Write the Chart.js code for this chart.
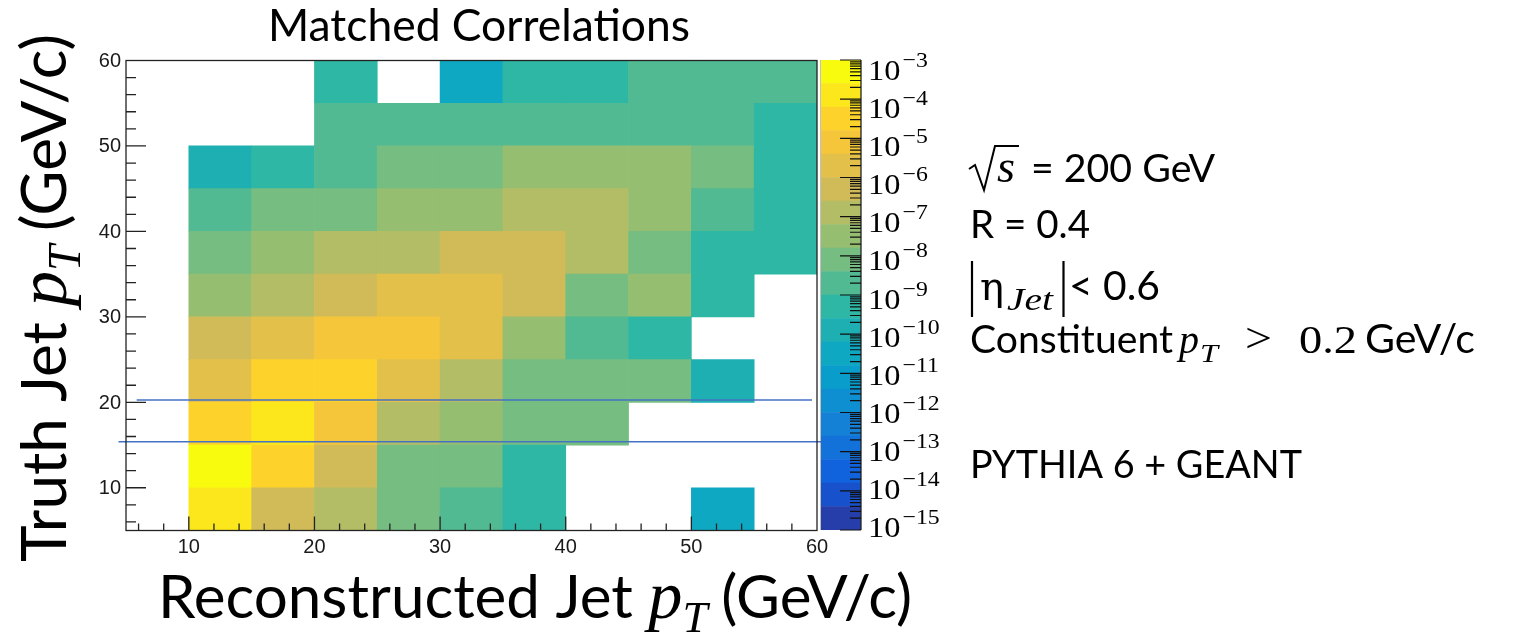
<!DOCTYPE html>
<html>
<head>
<meta charset="utf-8">
<script src="https://cdn.jsdelivr.net/npm/chart.js@4.4.1/dist/chart.umd.min.js"></script>
<style>
  html, body { margin: 0; padding: 0; background: #fff; }
  #wrap { position: relative; width: 1519px; height: 638px; overflow: hidden; background: #fff; }
  #main { position: absolute; left: 0; top: 0; }
  #zbar { position: absolute; left: 820px; top: 0; }
</style>
</head>
<body>
<div id="wrap">
  <canvas id="main" width="1519" height="638"></canvas>
  <canvas id="zbar" width="140" height="638"></canvas>
</div>
<script>
// ---- binning (GeV/c) ----
const recoLowEdges = [10, 15, 20, 25, 30, 35, 40, 45, 50, 55];
const truthLowEdges = [5, 10, 15, 20, 25, 30, 35, 40, 45, 50, 55];
const binWidth = 5;

// ---- matched-jet yield, one array per truth-pT bin, indexed by reco-pT bin (null = empty) ----
const truth05 = [1.2e-4, 4.5e-7, 1.2e-7, 7e-9, 2e-9, 5e-10, null, null, 3e-11, null];
const truth10 = [5e-4, 3.5e-5, 5e-7, 8e-9, 7.5e-9, 5e-10, null, null, null, null];
const truth15 = [3e-5, 1.3e-4, 9e-6, 1.2e-7, 3e-8, 8e-9, 7e-9, null, null, null];
const truth20 = [2e-6, 3.2e-5, 3e-5, 2.2e-6, 1.3e-7, 8e-9, 8e-9, 7e-9, 1.3e-10, null];
const truth25 = [5e-7, 2e-6, 8e-6, 7.5e-6, 2e-6, 3e-8, 2e-9, 5e-10, null, null];
const truth30 = [3e-8, 1.3e-7, 5e-7, 2e-6, 2e-6, 5.5e-7, 8e-9, 3e-8, 5e-10, null];
const truth35 = [8e-9, 3e-8, 1.2e-7, 1.4e-7, 5e-7, 5e-7, 1.3e-7, 8e-9, 5e-10, 5e-10];
const truth40 = [2e-9, 8e-9, 7.5e-9, 3e-8, 3e-8, 1.3e-7, 1.2e-7, 3e-8, 2e-9, 5e-10];
const truth45 = [1.3e-10, 5e-10, 2e-9, 8e-9, 8e-9, 3e-8, 3e-8, 2.8e-8, 8e-9, 5e-10];
const truth50 = [null, null, 2e-9, 2e-9, 2e-9, 2e-9, 2e-9, 2e-9, 2e-9, 5e-10];
const truth55 = [null, null, 5e-10, null, 3e-11, 5e-10, 5e-10, 2e-9, 2e-9, 2e-9];
const truthRows = [truth05, truth10, truth15, truth20, truth25, truth30, truth35, truth40, truth45, truth50, truth55];

// ---- axis tick labels ----
const xTickLabels = [10, 20, 30, 40, 50, 60];
const yTickLabels = [10, 20, 30, 40, 50, 60];

// ---- horizontal reference lines (truth pT) ----
const refLineY = [20.27, 15.4];
const refLineFrom = [5.85, 4.4];
const refLineTo = [59.6, 60.3];

// ---- colour scale ----
const zLogMin = -15, zLogMax = -3, nContours = 20;
const zTickExponents = [-3, -4, -5, -6, -7, -8, -9, -10, -11, -12, -13, -14, -15];

// kBird palette stops
const birdR = [0.2082, 0.0592, 0.0780, 0.0232, 0.1802, 0.5301, 0.8186, 0.9956, 0.9764];
const birdG = [0.1664, 0.3599, 0.5041, 0.6419, 0.7178, 0.7492, 0.7328, 0.7862, 0.9832];
const birdB = [0.5293, 0.8684, 0.8385, 0.7914, 0.6425, 0.4662, 0.3499, 0.1968, 0.0539];
function bird(t) {
  const n = birdR.length - 1;
  const p = Math.min(Math.max(t, 0), 1) * n;
  const i = Math.min(Math.floor(p), n - 1), f = p - i;
  const c = a => Math.round(255 * (a[i] + (a[i + 1] - a[i]) * f));
  return `rgb(${c(birdR)},${c(birdG)},${c(birdB)})`;
}
const contourColours = [];
for (let i = 0; i < nContours; i++) contourColours.push(bird((i + 1) / nContours));
function contourIndex(v) {
  const k = Math.floor((Math.log10(v) - zLogMin) / ((zLogMax - zLogMin) / nContours));
  return Math.min(Math.max(k, 0), nContours - 1);
}
function colourFor(v) { return contourColours[contourIndex(v)]; }

// ---- cells as floating bars ----
const cellDatasets = truthRows.map((row, j) => ({
  type: 'bar',
  data: row.map((v, i) => v == null ? null : {
    x: recoLowEdges[i] + binWidth / 2,
    y: [truthLowEdges[j], truthLowEdges[j] + binWidth],
    v: v
  }).filter(d => d !== null),
  backgroundColor: ctx => (ctx.raw && ctx.raw.v) ? colourFor(ctx.raw.v) : 'rgba(0,0,0,0)',
  borderWidth: 0,
  grouped: false,
  categoryPercentage: 1,
  barPercentage: 1,
  order: 2
}));

const lineDatasets = refLineY.map((y, k) => ({
  type: 'line',
  data: [{ x: refLineFrom[k], y: y }, { x: refLineTo[k], y: y }],
  borderColor: '#4472c4',
  borderWidth: 1.5,
  pointRadius: 0,
  clip: false,
  order: 0
}));

// ---- rich text helper: fits a run of segments to a width ----
function setFont(ctx, s) {
  ctx.font = `${s.style || 'normal'} normal ${s.size}px ${s.family}`;
}
function drawRun(ctx, segs, x, y, targetW, stretch) {
  let w = 0;
  for (const s of segs) { setFont(ctx, s); s._w = ctx.measureText(s.t).width; w += s._w + (s.gap || 0); }
  const k = targetW ? targetW / w : 1;
  ctx.save();
  ctx.translate(x, y);
  if (stretch) ctx.scale(k, 1); else ctx.scale(k, k);
  ctx.textAlign = 'left';
  ctx.textBaseline = 'alphabetic';
  let cx = 0;
  for (const s of segs) {
    setFont(ctx, s);
    ctx.fillText(s.t, cx, s.dy || 0);
    cx += s._w + (s.gap || 0);
  }
  ctx.restore();
}
const SANS = 'Lato';
const SERIF = '"Liberation Serif"';
const MATH = '"DejaVu Serif"';

// ---- frame, ticks, labels ----
const framePlugin = {
  id: 'frame',
  afterDatasetsDraw(chart) {
    const { ctx, chartArea: a, scales: { x: xs, y: ys } } = chart;
    ctx.save();
    ctx.strokeStyle = '#222';
    ctx.lineWidth = 1.3;
    ctx.strokeRect(a.left, a.top, a.right - a.left, a.bottom - a.top);
    ctx.beginPath();
    for (let v = 6; v < 60; v += 2) {
      const px = xs.getPixelForValue(v);
      const len = v % 10 === 0 ? 14 : 7;
      ctx.moveTo(px, a.bottom); ctx.lineTo(px, a.bottom - len);
    }
    for (let v = 6; v < 60; v += 2) {
      const py = ys.getPixelForValue(v);
      const len = v % 10 === 0 ? 20 : 10;
      ctx.moveTo(a.left, py); ctx.lineTo(a.left + len, py);
    }
    ctx.stroke();

    ctx.fillStyle = '#1a1a1a';
    ctx.font = '20px "Liberation Sans"';
    ctx.textBaseline = 'middle';
    ctx.textAlign = 'center';
    xTickLabels.forEach(v => ctx.fillText(String(v), xs.getPixelForValue(v), 547));
    ctx.textAlign = 'right';
    yTickLabels.forEach(v => ctx.fillText(String(v), 121, ys.getPixelForValue(v) + 1));
    ctx.restore();
  },
  afterDraw(chart) {
    const ctx = chart.ctx;
    ctx.save();
    ctx.fillStyle = '#000';
    ctx.strokeStyle = '#000';

    // title
    drawRun(ctx, [{ t: 'Matched Correlations', family: SANS, size: 40 }], 268, 41, 422);

    // x-axis title
    drawRun(ctx, [
      { t: 'Reconstructed Jet ', family: SANS, size: 44 },
      { t: 'p', family: SERIF, style: 'italic', size: 50 },
      { t: 'T', family: SERIF, style: 'italic', size: 33, dy: 10, gap: 10 },
      { t: '(GeV/c)', family: SANS, size: 44 }
    ], 158, 618, 754);

    // y-axis title
    ctx.save();
    ctx.translate(66, 562);
    ctx.rotate(-Math.PI / 2);
    drawRun(ctx, [
      { t: 'Truth Jet ', family: SANS, size: 44 },
      { t: 'p', family: SERIF, style: 'italic', size: 50 },
      { t: 'T', family: SERIF, style: 'italic', size: 33, dy: 10, gap: 10 },
      { t: '(GeV/c)', family: SANS, size: 44 }
    ], 0, 0, 528);
    ctx.restore();

    // sqrt(s) = 200 GeV
    ctx.lineWidth = 2;
    ctx.lineJoin = 'miter';
    ctx.beginPath();
    ctx.moveTo(969, 169); ctx.lineTo(975, 165); ctx.lineTo(984, 190);
    ctx.lineTo(995, 146); ctx.lineTo(1019, 146);
    ctx.stroke();
    drawRun(ctx, [{ t: 's', family: SERIF, style: 'italic', size: 38 }], 997, 182, 18);
    drawRun(ctx, [{ t: '= 200 GeV', family: SANS, size: 35 }], 1031, 182, 184);

    // R = 0.4
    drawRun(ctx, [{ t: 'R = 0.4', family: SANS, size: 35 }], 970, 238, 120);

    // |eta_Jet| < 0.6
    ctx.lineWidth = 2.2;
    ctx.beginPath();
    ctx.moveTo(972, 261); ctx.lineTo(972, 317);
    ctx.moveTo(1063.5, 261); ctx.lineTo(1063.5, 317);
    ctx.stroke();
    drawRun(ctx, [{ t: 'η', family: MATH, size: 33 }], 980, 300, 24);
    drawRun(ctx, [{ t: 'Jet', family: SERIF, style: 'italic', size: 31 }], 1007, 310, 46, true);
    drawRun(ctx, [{ t: '< 0.6', family: SANS, size: 35 }], 1069, 300, 91);

    // Constituent pT > 0.2 GeV/c
    drawRun(ctx, [{ t: 'Constituent', family: SANS, size: 35 }], 970, 353, 203);
    drawRun(ctx, [{ t: 'p', family: SERIF, style: 'italic', size: 38 }], 1179, 353, 20);
    drawRun(ctx, [{ t: 'T', family: SERIF, style: 'italic', size: 26 }], 1200, 362, 18, true);
    drawRun(ctx, [{ t: '>', family: SERIF, size: 42 }], 1245, 352, 27, true);
    drawRun(ctx, [{ t: '0.2', family: SERIF, size: 39 }], 1299, 353, 58, true);
    drawRun(ctx, [{ t: 'GeV/c', family: SANS, size: 35 }], 1365, 353, 110);

    // generator
    drawRun(ctx, [{ t: 'PYTHIA 6 + GEANT', family: SANS, size: 35 }], 970, 478, 332);
    ctx.restore();
  }
};

new Chart(document.getElementById('main'), {
  type: 'bar',
  data: { datasets: [...lineDatasets, ...cellDatasets] },
  options: {
    responsive: false,
    animation: false,
    devicePixelRatio: 1,
    layout: { padding: { left: 126, top: 60.5, right: 1519 - 817, bottom: 638 - 530.5 } },
    plugins: { legend: { display: false }, tooltip: { enabled: false } },
    scales: {
      x: { type: 'linear', min: 5, max: 60, offset: false, display: false, ticks: { stepSize: 5 }, grid: { offset: false } },
      y: { type: 'linear', min: 5, max: 60, display: false, beginAtZero: false, ticks: { stepSize: 5 } }
    }
  },
  plugins: [framePlugin]
});

// ---- colour bar ----
const zBandEdges = [];
for (let i = 0; i <= nContours; i++) zBandEdges.push(Math.pow(10, zLogMin + i * (zLogMax - zLogMin) / nContours));
const zbarDatasets = contourColours.map((col, i) => ({
  data: [[zBandEdges[i], zBandEdges[i + 1]]],
  backgroundColor: col,
  borderWidth: 0,
  grouped: false,
  categoryPercentage: 1,
  barPercentage: 1
}));

const zbarPlugin = {
  id: 'zbarAxis',
  afterDatasetsDraw(chart) {
    const { ctx, chartArea: a, scales: { y: ys } } = chart;
    ctx.save();
    ctx.strokeStyle = '#222';
    ctx.lineWidth = 1.3;
    ctx.beginPath();
    ctx.moveTo(a.right, a.top); ctx.lineTo(a.right, a.bottom);
    ctx.stroke();
    ctx.strokeStyle = 'rgba(0,0,0,0.25)';
    ctx.lineWidth = 1;
    ctx.beginPath();
    ctx.moveTo(a.left - 0.5, a.top); ctx.lineTo(a.left - 0.5, a.bottom);
    ctx.stroke();
    ctx.strokeStyle = '#111';
    ctx.lineWidth = 1.2;
    ctx.beginPath();
    for (let e = zLogMin; e <= zLogMax; e++) {
      const py = ys.getPixelForValue(Math.pow(10, e));
      ctx.moveTo(a.right, py); ctx.lineTo(a.right - 21, py);
      if (e < zLogMax) {
        for (let m = 2; m <= 9; m++) {
          const pm = ys.getPixelForValue(m * Math.pow(10, e));
          ctx.moveTo(a.right, pm); ctx.lineTo(a.right - 11, pm);
        }
      }
    }
    ctx.stroke();

    ctx.fillStyle = '#000';
    ctx.textAlign = 'left';
    ctx.textBaseline = 'alphabetic';
    zTickExponents.forEach((e, i) => {
      const py = ys.getPixelForValue(Math.pow(10, e));
      const cy = py + 10 - 13 * i / (zTickExponents.length - 1);
      const base = cy + 10;
      ctx.save();
      ctx.translate(48, base);
      ctx.scale(1.08, 1);
      ctx.font = `30px ${SERIF}`;
      ctx.fillText('10', 0, 0);
      ctx.font = `22px ${SERIF}`;
      ctx.fillText('\u2212' + String(-e), 32, -13);
      ctx.restore();
    });
    ctx.restore();
  }
};

new Chart(document.getElementById('zbar'), {
  type: 'bar',
  data: { labels: [''], datasets: zbarDatasets },
  options: {
    responsive: false,
    animation: false,
    devicePixelRatio: 1,
    layout: { padding: { left: 1, top: 60, right: 140 - 41, bottom: 638 - 530 } },
    plugins: { legend: { display: false }, tooltip: { enabled: false } },
    scales: {
      x: { display: false },
      y: { type: 'logarithmic', min: Math.pow(10, zLogMin), max: Math.pow(10, zLogMax), display: false }
    }
  },
  plugins: [zbarPlugin]
});
</script>
</body>
</html>
